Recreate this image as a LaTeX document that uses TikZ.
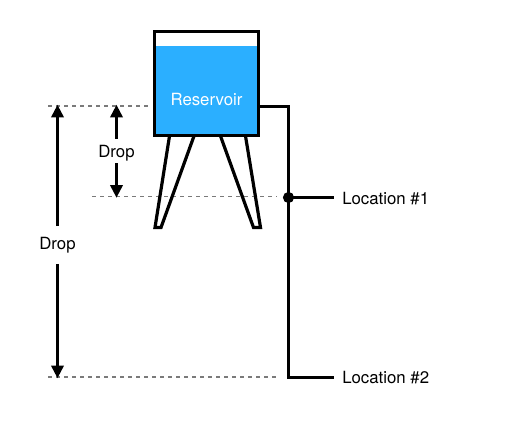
\documentclass[tikz,border=0pt]{standalone}
\usepackage{fontspec}
\setmainfont{TeX Gyre Heros}
\usepackage{xcolor}
\usetikzlibrary{arrows.meta}
\definecolor{agua}{HTML}{2BAFFF}

\begin{document}
\begin{tikzpicture}[x=0.75pt, y=-0.75pt,
  linea/.style={line width=2.4pt},
  guia/.style={draw=black!52, line width=1.1pt, dash pattern=on 3pt off 3pt},
  flecha/.style={-{Triangle[length=9.5pt, width=9pt]}, line width=2.4pt, shorten >=-1pt},
  etiqueta/.style={font=\fontsize{12.6pt}{14pt}\selectfont, inner sep=0pt}]
\useasboundingbox (0,0) rectangle (513,425);
% dashed levels
\coordinate (nivelA) at (48,106);
\coordinate (nivelAfin) at (148,106);
\coordinate (nivelB) at (92,196.5);
\coordinate (nivelBfin) at (277,196.5);
\coordinate (nivelC) at (48,377);
\coordinate (nivelCfin) at (277,377);
\foreach \a/\b in {nivelA/nivelAfin, nivelB/nivelBfin, nivelC/nivelCfin} \draw[guia] (\a) -- (\b);
% legs
\draw[linea, miter limit=4] (169.5,136) -- (155,227.5) -- (161,227.5) -- (194,136);
\draw[linea, miter limit=4] (220.5,136) -- (253.5,227.5) -- (260.5,227.5) -- (245.5,136);
% tank
\node[fill=agua, inner sep=0pt, outer sep=0pt, minimum width=104pt*0.75, minimum height=89pt*0.75, anchor=north west] (agua) at (154.7,46) {};
\node[draw, linea, inner sep=0pt, outer sep=0pt, minimum width=103.8pt*0.75, minimum height=103.8pt*0.75, anchor=north west] (tanque) at (154.7,31.5) {};
\node[etiqueta, text=white] (res) at (206.5,99) {Reservoir};
% pipe
\node[etiqueta, anchor=west] (loc1) at (342,198.5) {Location \#1};
\node[etiqueta, anchor=west] (loc2) at (342,378) {Location \#2};
\node[circle, fill=black, inner sep=0pt, minimum size=8.4pt] (union) at (288.5,197.5) {};
\coordinate (salida) at (258.5,106.5);
\coordinate (fin1) at (334,197.5);
\coordinate (fin2) at (334,377.5);
\draw[linea] (salida) -| (union.center) |- (fin2);
\draw[linea] (union.center) -- (fin1);
% drop arrows
\node[etiqueta, minimum height=37pt*0.75] (dropA) at (57.5,245) {Drop};
\node[etiqueta, minimum height=24pt*0.75, text height=13pt, text depth=2.7pt] (dropB) at (116.5,151) {Drop};
\coordinate (puntaA) at (57.5,106);
\coordinate (puntaB) at (57.5,377);
\coordinate (puntaC) at (116.5,106);
\coordinate (puntaD) at (116.5,196.5);
\foreach \a/\b in {dropA/puntaA, dropA/puntaB, dropB/puntaC, dropB/puntaD} \draw[flecha] (\a) -- (\b);
\end{tikzpicture}
\end{document}
